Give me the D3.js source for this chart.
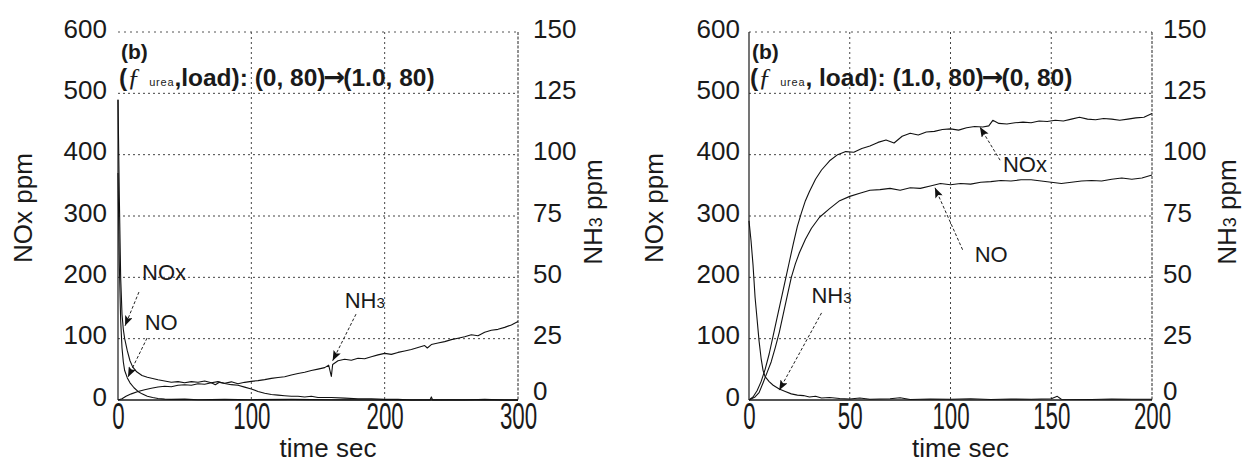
<!DOCTYPE html>
<html><head><meta charset="utf-8">
<script src="https://cdn.jsdelivr.net/npm/d3@7"></script>
<style>body{margin:0;background:#fff}svg{display:block;font-family:"Liberation Sans",Arial,sans-serif}</style>
</head><body><svg id="c" width="1246" height="464"></svg>
<script>
// ---------- data ----------
const leftXTicks = [0, 100, 200, 300];
const rightXTicks = [0, 50, 100, 150, 200];
const noxTicks = [0, 100, 200, 300, 400, 500, 600];
const nh3Ticks = [0, 25, 50, 75, 100, 125, 150];
const axisTitles = ["NOx ppm", "NH", "3", " ppm", "time sec"];

// left panel: (f urea, load): (0, 80) -> (1.0, 80)   [time s, ppm]
const leftNOx = [[0,490],[1,330],[2,200],[3,140],[4,115],[5,100],[7,80],[9,64],[11,54],[14,46],[18,40],[22,37],[26,35],[30,33],[35,31],[40,29],[45,30],[50,28],[55,30],[60,29],[65,31],[70,28],[75,30],[80,27],[85,25],[90,24],[95,21],[100,18],[105,14],[110,11],[115,9],[120,8],[125,7],[130,6],[135,6],[140,5],[145,6],[150,4],[160,4],[170,3],[180,2],[190,2],[200,1],[210,1],[220,0],[234,0],[235,5],[236,0],[260,0],[275,1],[290,0],[300,0]];
const leftNO = [[0,370],[1,220],[2,130],[3,85],[4,62],[5,48],[7,36],[9,28],[12,20],[15,14],[18,10],[22,6],[26,4],[30,2.5],[35,1.5],[40,1],[50,1.5],[60,0.5],[80,1],[100,0.5],[130,1],[160,0.5],[200,0],[250,0.5],[300,0]];
const leftNH3 = [[0,0],[3,0.5],[6,1.5],[10,2.5],[15,3.5],[20,4.2],[25,4.8],[30,5.3],[35,5.6],[40,5.4],[45,6],[50,6.2],[55,6],[60,6.6],[65,6.4],[70,7],[73,6.2],[76,7.2],[80,6.8],[85,7.4],[90,6.6],[95,7.2],[100,7.6],[105,7.9],[110,8.3],[115,8.8],[120,9.2],[125,9.5],[130,10.2],[135,10.8],[140,11.3],[145,12],[150,12.6],[155,13.2],[158,14.2],[160,9.6],[161,14.5],[165,16],[170,16.6],[175,16.2],[180,17],[185,16.8],[190,17.6],[195,18.4],[200,19],[205,18.6],[210,19.4],[215,20],[220,20.6],[225,21.4],[230,22.2],[232,21.2],[235,22.6],[240,23.2],[245,23.8],[250,24.6],[255,25.2],[260,25.8],[265,26.6],[270,26.2],[275,27.6],[280,28.4],[285,28.8],[290,29.6],[295,30.6],[300,32]];

// right panel: (f urea, load): (1.0, 80) -> (0, 80)
const rightNOx = [[0,0],[2,5],[4,15],[6,30],[8,50],[10,75],[12,105],[14,135],[16,165],[18,195],[20,225],[22,255],[24,283],[26,305],[28,325],[30,340],[33,360],[36,375],[40,390],[44,400],[48,405],[52,404],[56,410],[60,414],[64,420],[68,424],[72,419],[76,430],[80,435],[84,432],[88,437],[92,438],[96,441],[100,442],[104,440],[108,444],[112,446],[116,445],[119,447],[121,456],[124,451],[128,450],[132,452],[136,453],[140,452],[144,455],[148,454],[152,456],[156,455],[160,458],[164,461],[168,458],[172,457],[176,459],[180,458],[184,456],[188,458],[192,460],[196,461],[200,467]];
const rightNO = [[0,0],[3,5],[5,12],[7,28],[9,45],[11,62],[13,85],[15,110],[17,140],[19,170],[21,200],[23,222],[25,240],[28,262],[31,280],[35,298],[40,312],[45,325],[50,332],[55,337],[60,342],[65,343],[70,345],[75,342],[80,346],[85,345],[90,349],[95,353],[100,351],[105,353],[110,352],[115,355],[120,356],[125,358],[130,357],[135,359],[140,359],[145,357],[150,355],[155,353],[160,355],[165,357],[170,358],[175,357],[180,360],[185,362],[190,360],[195,362],[200,367]];
const rightNH3 = [[0,73],[1,65],[2,55],[3,42],[4,33],[5,24],[6,17],[7,12],[8,9.5],[10,7.5],[12,6],[15,4.5],[18,3.5],[21,2.5],[24,2],[27,1.8],[30,1.2],[33,1.5],[36,0.8],[40,1],[45,0.6],[50,0.4],[55,0.8],[60,0.3],[70,0.5],[75,0.9],[80,0.2],[90,0.4],[100,0.3],[110,0.5],[120,0.2],[130,0.4],[140,0.3],[150,0.5],[153,1.5],[155,0.3],[170,0.2],[180,0.4],[190,0.3],[200,0.3]];

const leftTitle = ["(b)", "(", "ƒ", "urea", ",load): (0, 80)", "→", "(1.0, 80)"];
const rightTitle = ["(b)", "(", "ƒ", "urea", ", load): (1.0, 80)", "→", "(0, 80)"];

// annotations: [label, labelT, labelV, fromT, fromV, toT, toV]  (data units, left axis ppm)
const leftNotes = [["NOx",18,196,15.7,176,5.3,121],["NO",20,114,21.8,101,7.5,37.5],["NH3",170,150,178.5,140,161,64]];
const rightNotes = [["NOx",126,372,124.6,391,114.6,445],["NO",112,225,106,245,92.3,346],["NH3",31,158,36,142,15,16]];

// ---------- drawing ----------
const svg = d3.select("#c");
svg.append("rect").attr("width",1246).attr("height",464).attr("fill","#fff");
const defs = svg.append("defs");
defs.append("marker").attr("id","ah").attr("viewBox","0 0 10 8").attr("refX",10).attr("refY",4)
  .attr("markerWidth",11).attr("markerHeight",8).attr("markerUnits","userSpaceOnUse").attr("orient","auto")
  .append("path").attr("d","M0,0L10,4L0,8L2,4Z").attr("fill","#111");

function panel(p){
  const x = d3.scaleLinear().domain([0,p.tmax]).range([p.x0,p.x1]);
  const yL = d3.scaleLinear().domain([0,600]).range([400,32]);
  const yR = d3.scaleLinear().domain([0,150]).range([400,32]);
  const g = svg.append("g");
  const ink = "#1a1a1a";
  // grid
  g.selectAll(null).data(noxTicks.filter(v=>v>0&&v<600)).enter().append("line")
    .attr("x1",p.x0).attr("x2",p.x1).attr("y1",d=>yL(d)).attr("y2",d=>yL(d))
    .attr("stroke","#444").attr("stroke-width",1).attr("stroke-dasharray","2,3");
  g.selectAll(null).data(p.xticks.filter(v=>v>0&&v<p.tmax)).enter().append("line")
    .attr("y1",32).attr("y2",400).attr("x1",d=>x(d)).attr("x2",d=>x(d))
    .attr("stroke","#444").attr("stroke-width",1).attr("stroke-dasharray","2,3");
  // frame
  g.append("line").attr("x1",p.x0).attr("x2",p.x1).attr("y1",yL(600)).attr("y2",yL(600))
    .attr("stroke","#555").attr("stroke-dasharray","2,4");
  g.append("line").attr("x1",p.x1).attr("x2",p.x1).attr("y1",yL(600)).attr("y2",yL(0))
    .attr("stroke","#222").attr("stroke-dasharray","3,1.5");
  g.append("line").attr("x1",p.x0).attr("x2",p.x0).attr("y1",p.leftTop).attr("y2",yL(0))
    .attr("stroke",ink).attr("stroke-width",1.2);
  g.append("line").attr("x1",p.x0).attr("x2",p.x1).attr("y1",yL(0)).attr("y2",yL(0))
    .attr("stroke",ink).attr("stroke-width",1.4);

  // axes
  const ax = g.append("g").attr("transform","translate(0,400)")
    .call(d3.axisBottom(x).tickValues(p.xticks).tickSize(0).tickPadding(3).tickFormat(d3.format("d")));
  ax.select(".domain").remove();
  ax.selectAll("text").attr("font-size",36).attr("font-family","'Liberation Sans',Arial,sans-serif")
    .attr("fill",ink).attr("transform","scale(0.62,1)");
  const al = g.append("g").attr("transform",`translate(${p.x0},0)`)
    .call(d3.axisLeft(yL).tickValues(noxTicks).tickSize(0).tickPadding(p.padL));
  al.select(".domain").remove();
  al.selectAll("text").attr("font-size",26).attr("dy","0.2em").attr("fill",ink)
    .attr("font-family","'Liberation Sans',Arial,sans-serif");
  const ar = g.append("g").attr("transform",`translate(${p.x1},0)`)
    .call(d3.axisRight(yR).tickValues(nh3Ticks).tickSize(0).tickPadding(p.padR));
  ar.select(".domain").remove();
  ar.selectAll("text").attr("font-size",26).attr("dy",d=>d===0?"-0.02em":"0.2em").attr("fill",ink)
    .attr("font-family","'Liberation Sans',Arial,sans-serif");

  // axis titles
  g.append("text").attr("transform",`translate(${p.x0-86},208) rotate(-90)`).attr("text-anchor","middle")
    .attr("font-size",26).attr("fill",ink).text(axisTitles[0]);
  const t2 = g.append("text").attr("transform",`translate(${p.x1+84},212) rotate(-90)`).attr("text-anchor","middle")
    .attr("font-size",26).attr("fill",ink);
  t2.append("tspan").text(axisTitles[1]);
  t2.append("tspan").attr("font-size",18).text(axisTitles[2]);
  t2.append("tspan").text(axisTitles[3]);
  g.append("text").attr("x",(p.x0+p.x1)/2+10).attr("y",457).attr("text-anchor","middle")
    .attr("font-size",26).attr("fill",ink).text(axisTitles[4]);

  // curves
  const lineL = d3.line().x(d=>x(d[0])).y(d=>yL(d[1]));
  const lineR = d3.line().x(d=>x(d[0])).y(d=>yR(d[1]));
  [p.nox,p.no].forEach(s=>g.append("path").attr("d",lineL(s)).attr("fill","none")
    .attr("stroke","#111").attr("stroke-width",1.1).attr("stroke-linejoin","round"));
  g.append("path").attr("d",lineR(p.nh3)).attr("fill","none")
    .attr("stroke","#111").attr("stroke-width",1.1).attr("stroke-linejoin","round");

  // titles
  g.append("text").attr("x",p.x0+3).attr("y",59).attr("font-size",21).attr("font-weight","bold")
    .attr("fill",ink).text(p.title[0]);
  const tt = g.append("text").attr("x",p.x0+1).attr("y",86).attr("font-size",24.5).attr("font-weight","bold").attr("fill",ink);
  tt.append("tspan").text(p.title[1]);
  tt.append("tspan").attr("font-family","'Liberation Serif',serif").attr("font-style","italic").attr("font-weight","normal").attr("font-size",26).text(p.title[2]);
  tt.append("tspan").attr("font-size",11).attr("font-weight","normal").attr("dx",9).attr("letter-spacing",0.8).text(p.title[3]);
  tt.append("tspan").text(p.title[4]);
  tt.append("tspan").attr("font-family","'DejaVu Sans',sans-serif").attr("font-size",26).attr("dx",-2).text(p.title[5]);
  tt.append("tspan").attr("dx",-2).text(p.title[6]);

  // annotations
  p.notes.forEach(n=>{
    const lt = g.append("text").attr("x",x(n[1])).attr("y",yL(n[2])).attr("font-size",22).attr("fill",ink);
    if(n[0]==="NH3"){ lt.append("tspan").text("NH"); lt.append("tspan").attr("font-size",15).text("3"); }
    else lt.text(n[0]);
    g.append("line").attr("x1",x(n[3])).attr("y1",yL(n[4])).attr("x2",x(n[5])).attr("y2",yL(n[6]))
      .attr("stroke","#222").attr("stroke-width",1).attr("stroke-dasharray","3,2").attr("marker-end","url(#ah)");
  });
}

panel({x0:118,x1:518,tmax:300,xticks:leftXTicks,padL:11,padR:15,leftTop:100,
  nox:leftNOx,no:leftNO,nh3:leftNH3,title:leftTitle,notes:leftNotes});
panel({x0:749,x1:1152,tmax:200,xticks:rightXTicks,padL:9,padR:11,leftTop:32,
  nox:rightNOx,no:rightNO,nh3:rightNH3,title:rightTitle,notes:rightNotes});
</script></body></html>
